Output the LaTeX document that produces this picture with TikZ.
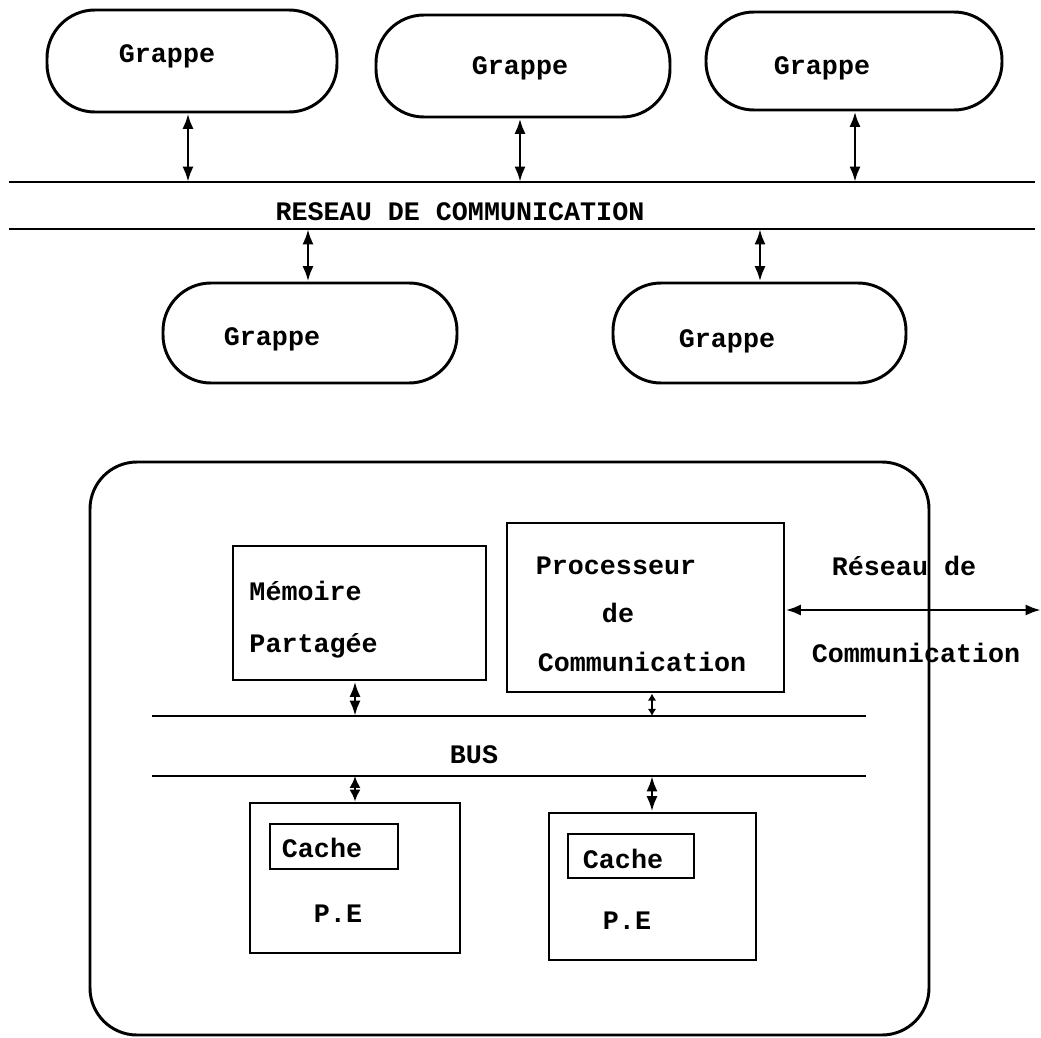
\documentclass[tikz,border=0pt]{standalone}
\usepackage{fontspec}
\setmainfont{Liberation Mono}
\usetikzlibrary{arrows.meta,fit}
\begin{document}
\begin{tikzpicture}[x=0.025cm,y=-0.025cm,line width=2.1pt,
  lbl/.style={font=\fontsize{19pt}{22pt}\selectfont\bfseries, inner sep=0pt},
  cluster/.style={draw, line width=2.1pt, inner sep=0pt, rounded corners=1.2cm},
  unit/.style={draw, line width=2.1pt, inner sep=0pt},
  conn/.style={line width=2.1pt, {Latex[length=11pt,width=8pt]}-{Latex[length=11pt,width=8pt]}},
  midconn/.style={line width=2.1pt, {Latex[length=8.5pt,width=8pt]}-{Latex[length=8.5pt,width=8pt]}},
  shortconn/.style={line width=2.1pt, {Latex[length=5pt,width=6pt]}-{Latex[length=5pt,width=6pt]}}]
\useasboundingbox (0,0) rectangle (1041,1038);

% ---- clusters around the communication network ----
\node[cluster, fit={(47,10) (337,112)}] (G1) {};
\node[cluster, fit={(376,15) (670,117)}] (G2) {};
\node[cluster, fit={(706,12) (1002,110)}] (G3) {};
\node[cluster, fit={(163,283) (457,383)}] (G4) {};
\node[cluster, fit={(613,283) (906,383)}] (G5) {};
\node[lbl] (tG1) at (167,56) {Grappe};
\node[lbl] (tG2) at (520,68) {Grappe};
\node[lbl] (tG3) at (822,68) {Grappe};
\node[lbl] (tG4) at (272,339) {Grappe};
\node[lbl] (tG5) at (727,341) {Grappe};

% network lines
\coordinate (netA1) at (9,182);  \coordinate (netA2) at (1035,182);
\coordinate (netB1) at (9,229);  \coordinate (netB2) at (1035,229);
\draw (netA1) -- (netA2);
\draw (netB1) -- (netB2);
\node[lbl] (net) at (460,212) {RESEAU DE COMMUNICATION};

\coordinate (p1) at (188,182);
\coordinate (p2) at (520,182);
\coordinate (p3) at (855,182);
\coordinate (p4) at (308,229);
\coordinate (p5) at (760,229);
\draw[conn] (p1 |- G1.south) -- (p1);
\draw[conn] (p2 |- G2.south) -- (p2);
\draw[conn] (p3 |- G3.south) -- (p3);
\draw[conn] (p4) -- (p4 |- G4.north);
\draw[conn] (p5) -- (p5 |- G5.north);

% ---- detail of one cluster ----
\node[draw, line width=2.1pt, inner sep=0pt, rounded corners=1.175cm, fit={(90,462) (929,1035)}] (cl) {};

\node[unit, fit={(233,546) (486,680)}] (mem) {};
\node[lbl, anchor=west] (tmem1) at (248,591) {Mémoire};
\node[lbl, anchor=west] (tmem2) at (248,646) {Partagée};

\node[unit, fit={(507,523) (784,692)}] (proc) {};
\node[lbl] (tproc1) at (616,566) {Processeur};
\node[lbl] (tproc2) at (618,613) {de};
\node[lbl] (tproc3) at (642,662) {Communication};

% bus
\coordinate (busA1) at (152,716); \coordinate (busA2) at (866,716);
\coordinate (busB1) at (152,776); \coordinate (busB2) at (866,776);
\draw (busA1) -- (busA2);
\draw (busB1) -- (busB2);
\node[lbl] (bus) at (474,755) {BUS};

% processing elements
\node[unit, fit={(250,803) (460,953)}] (pe1) {};
\node[unit, fit={(270,824) (398,869)}] (c1) {};
\node[lbl] (tc1) at (322,848) {Cache};
\node[lbl] (tpe1) at (338,914) {P.E};

\node[unit, fit={(549,813) (756,960)}] (pe2) {};
\node[unit, fit={(568,834) (694,878)}] (c2) {};
\node[lbl] (tc2) at (623,859) {Cache};
\node[lbl] (tpe2) at (627,921) {P.E};

\coordinate (m1) at (355,716);
\coordinate (m2) at (652,716);
\coordinate (m3) at (355,776);
\coordinate (m4) at (652,776);
\draw[conn] (m1 |- mem.south) -- (m1);
\draw[shortconn] (m2 |- proc.south) -- (m2);
\draw[midconn] (m3) -- (m3 |- pe1.north);
\draw[conn] (m4) -- (m4 |- pe2.north);

% link to the external network
\coordinate (ext) at (1041,610);
\draw[conn] (proc.east |- ext) -- (ext);
\node[lbl] (ext1) at (904,566) {Réseau de};
\node[lbl] (ext2) at (916,653) {Communication};
\end{tikzpicture}
\end{document}
